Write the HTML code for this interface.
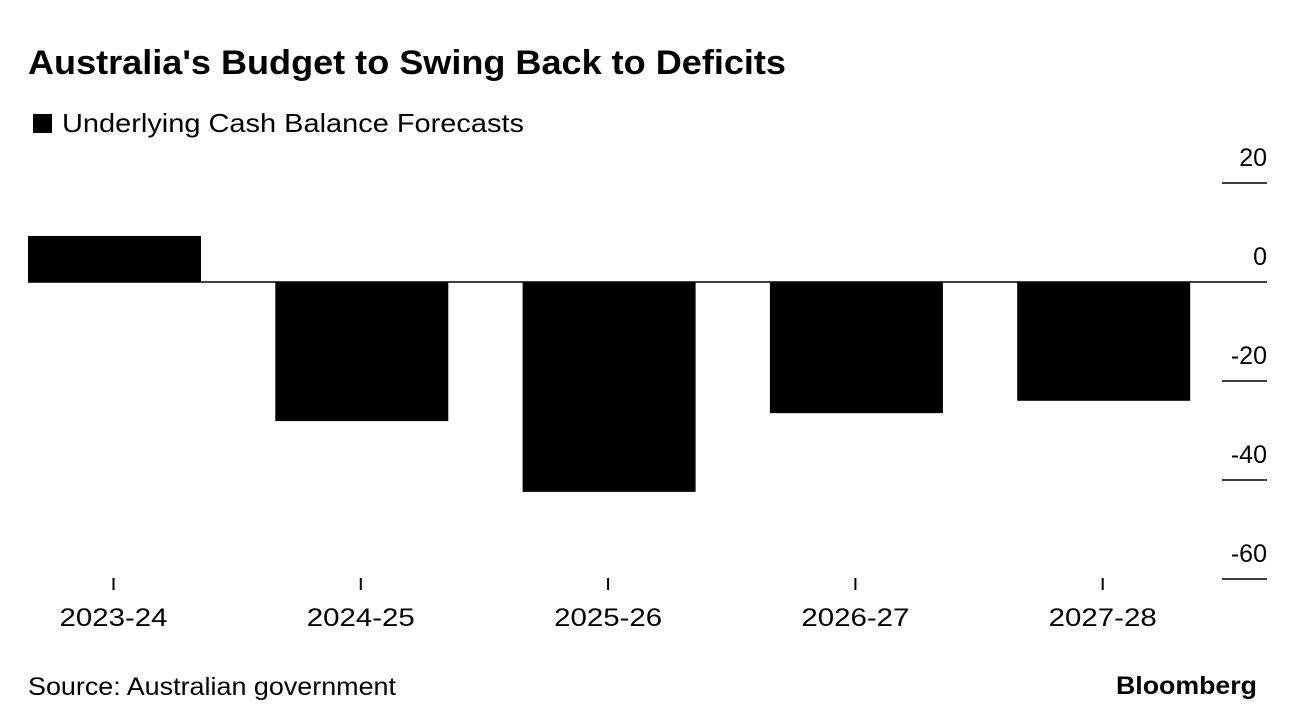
<!DOCTYPE html>
<html><head><meta charset="utf-8"><style>
body{margin:0;background:#fff;font-family:"Liberation Sans",sans-serif;}
svg{display:block}
</style></head><body>
<svg id="chart" width="1296" height="728" xmlns="http://www.w3.org/2000/svg">
<text x="28" y="74" font-size="34" font-weight="bold" fill="#000" textLength="758" lengthAdjust="spacingAndGlyphs">Australia's Budget to Swing Back to Deficits</text>
<rect x="33" y="114" width="19" height="19" fill="#000"/>
<text x="62" y="132" font-size="26" fill="#000" textLength="462" lengthAdjust="spacingAndGlyphs">Underlying Cash Balance Forecasts</text>
<g id="marks"></g>
<text x="28" y="695" font-size="25" fill="#000" textLength="368" lengthAdjust="spacingAndGlyphs">Source: Australian government</text>
<text x="1257" y="694" font-size="25" font-weight="bold" text-anchor="end" fill="#000" textLength="141" lengthAdjust="spacingAndGlyphs">Bloomberg</text>
</svg>
<script>
const categories=["2023-24","2024-25","2025-26","2026-27","2027-28"];
const values=[9.3,-28.1,-42.4,-26.5,-24.0];
const yTicks=[20,0,-20,-40,-60];
const ns="http://www.w3.org/2000/svg";
const g=document.getElementById("marks");
function y(v){return 282-v*4.95;}
function xBand(i){return 28+i*247.3;}
const barW=173;
function mk(t,a){const e=document.createElementNS(ns,t);for(const k in a)e.setAttribute(k,a[k]);g.appendChild(e);return e;}
yTicks.forEach(t=>{
 if(t!==0){const l=mk("line",{x1:1222,x2:1267,y1:y(t),y2:y(t),stroke:"#000","stroke-width":1.5});
 
 }
 const tx=mk("text",{x:1267,y:y(t)-17,"font-size":25,"text-anchor":"end",fill:"#000"});
 tx.textContent=t;
 
 
});
categories.forEach((c,i)=>{
 const v=values[i];const x0=xBand(i);
 const r=mk("rect",{x:x0,y:Math.min(y(v),y(0)),width:barW,height:Math.abs(y(v)-y(0)),fill:"#000"});
 
 
 const cx=x0+barW/2-1;
 const tk=mk("line",{x1:cx,x2:cx,y1:578,y2:590,stroke:"#000","stroke-width":2});
 
 
 const lb=mk("text",{x:cx,y:626,"font-size":25,"text-anchor":"middle",fill:"#000",textLength:108,lengthAdjust:"spacingAndGlyphs"});
 lb.textContent=c;
 
 
});
const z=mk("line",{x1:28,x2:1267,y1:y(0),y2:y(0),stroke:"#000","stroke-width":1.5});


</script>
</body></html>
